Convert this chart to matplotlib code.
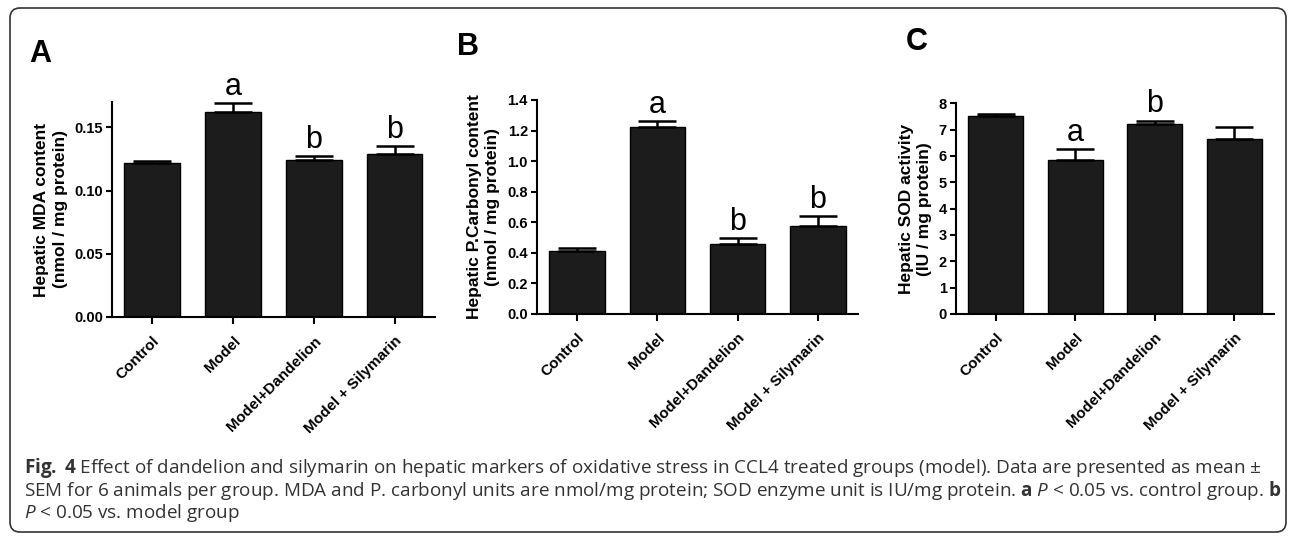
import matplotlib
matplotlib.use("Agg")
import matplotlib.pyplot as plt
import numpy as np
from matplotlib.patches import FancyBboxPatch

# Fig. 4 - oxidative stress markers (mean +/- SEM, n = 6)
groups = ["Control", "Model", "Model+Dandelion", "Model + Silymarin"]

mda_mean = [0.122, 0.162, 0.124, 0.129]
mda_sem = [0.001, 0.007, 0.003, 0.006]
mda_letters = ["", "a", "b", "b"]

carbonyl_mean = [0.41, 1.225, 0.46, 0.575]
carbonyl_sem = [0.022, 0.035, 0.035, 0.063]
carbonyl_letters = ["", "a", "b", "b"]

sod_mean = [7.5, 5.85, 7.2, 6.63]
sod_sem = [0.08, 0.40, 0.14, 0.48]
sod_letters = ["", "a", "b", ""]

caption_lines = [
    r"$\mathbf{Fig.\;4}$ Effect of dandelion and silymarin on hepatic markers of oxidative stress in CCL4 treated groups (model). Data are presented as mean ±",
    r"SEM for 6 animals per group. MDA and P. carbonyl units are nmol/mg protein; SOD enzyme unit is IU/mg protein. $\mathbf{a}$ $\mathit{P}$ < 0.05 vs. control group. $\mathbf{b}$",
    r"$\mathit{P}$ < 0.05 vs. model group",
]

plt.rcParams["font.family"] = ["Liberation Sans", "DejaVu Sans"]
plt.rcParams["mathtext.fontset"] = "custom"
plt.rcParams["mathtext.rm"] = "Open Sans"
plt.rcParams["mathtext.bf"] = "Open Sans:bold"
plt.rcParams["mathtext.it"] = "Open Sans:italic"

BAR = "#1c1c1c"


def bar_panel(ax, means, sems, letters, ylim, ticks, fmt, ylabel, label_x):
    x = np.arange(len(groups))
    ax.bar(x, means, width=0.69, color=BAR, edgecolor="black", linewidth=1)
    ax.errorbar(x, means, yerr=[np.zeros(len(sems)), sems], fmt="none",
                ecolor="black", elinewidth=1.8, capsize=14, capthick=1.8)
    for i, letter in enumerate(letters):
        if letter:
            ax.annotate(letter, (x[i], means[i] + sems[i]), xytext=(0, 6),
                        textcoords="offset points", ha="center", va="baseline",
                        fontsize=22)

    ax.set_xlim(-0.5, len(groups) - 0.5)
    ax.set_ylim(*ylim)
    ax.set_yticks(ticks)
    ax.set_yticklabels([fmt.format(t) for t in ticks], fontsize=10.5, fontweight="bold")
    ax.set_xticks(x)
    ax.set_xticklabels(groups, rotation=45, ha="right", rotation_mode="anchor",
                       fontsize=11, fontweight="bold")

    for side in ["top", "right"]:
        ax.spines[side].set_visible(False)
    for side in ["left", "bottom"]:
        ax.spines[side].set_linewidth(1.5)
    ax.tick_params(axis="y", direction="out", length=4.5, width=1.5, pad=2)
    ax.tick_params(axis="x", direction="out", length=5, width=1.5, pad=7)

    ax.set_ylabel(ylabel, fontsize=12.5, fontweight="bold", linespacing=1.3)
    ax.yaxis.set_label_coords(label_x, 0.5)


fig = plt.figure(figsize=(12.9, 5.38), dpi=100)

ax_a = fig.add_axes([0.0868, 0.4108, 0.2504, 0.3996])
bar_panel(ax_a, mda_mean, mda_sem, mda_letters, (0, 0.17),
          [0.0, 0.05, 0.10, 0.15], "{:.2f}",
          "Hepatic MDA content\n(nmol / mg protein)", -0.136)

ax_b = fig.add_axes([0.4163, 0.4164, 0.2488, 0.3978])
bar_panel(ax_b, carbonyl_mean, carbonyl_sem, carbonyl_letters, (0, 1.4),
          np.arange(0, 1.41, 0.2), "{:.1f}",
          "Hepatic P.Carbonyl content\n(nmol / mg protein)", -0.115)

ax_c = fig.add_axes([0.7411, 0.4164, 0.2465, 0.3916])
bar_panel(ax_c, sod_mean, sod_sem, sod_letters, (0, 8),
          np.arange(0, 9, 1), "{:.0f}",
          "Hepatic SOD activity\n(IU / mg protein)", -0.075)

# panel letters
fig.text(29 / 1290, 1 - 62 / 538, "A", fontsize=22, fontweight="bold")
fig.text(457 / 1290, 1 - 55 / 538, "B", fontsize=22, fontweight="bold")
fig.text(906 / 1290, 1 - 50 / 538, "C", fontsize=22, fontweight="bold")

# caption
for line, base in zip(caption_lines, [473, 496, 518]):
    fig.text(24 / 1290, 1 - base / 538, line, fontsize=13.6, color="#333333",
             family=["Open Sans", "DejaVu Sans"], va="baseline")

# rounded frame round the whole figure
frame = FancyBboxPatch((0.10, 0.06), 12.76, 5.24,
                       boxstyle="round,pad=0,rounding_size=0.1",
                       transform=fig.dpi_scale_trans, facecolor="none",
                       edgecolor="#333333", linewidth=1.2)
fig.patches.append(frame)

fig.savefig("out.png", dpi=100)
